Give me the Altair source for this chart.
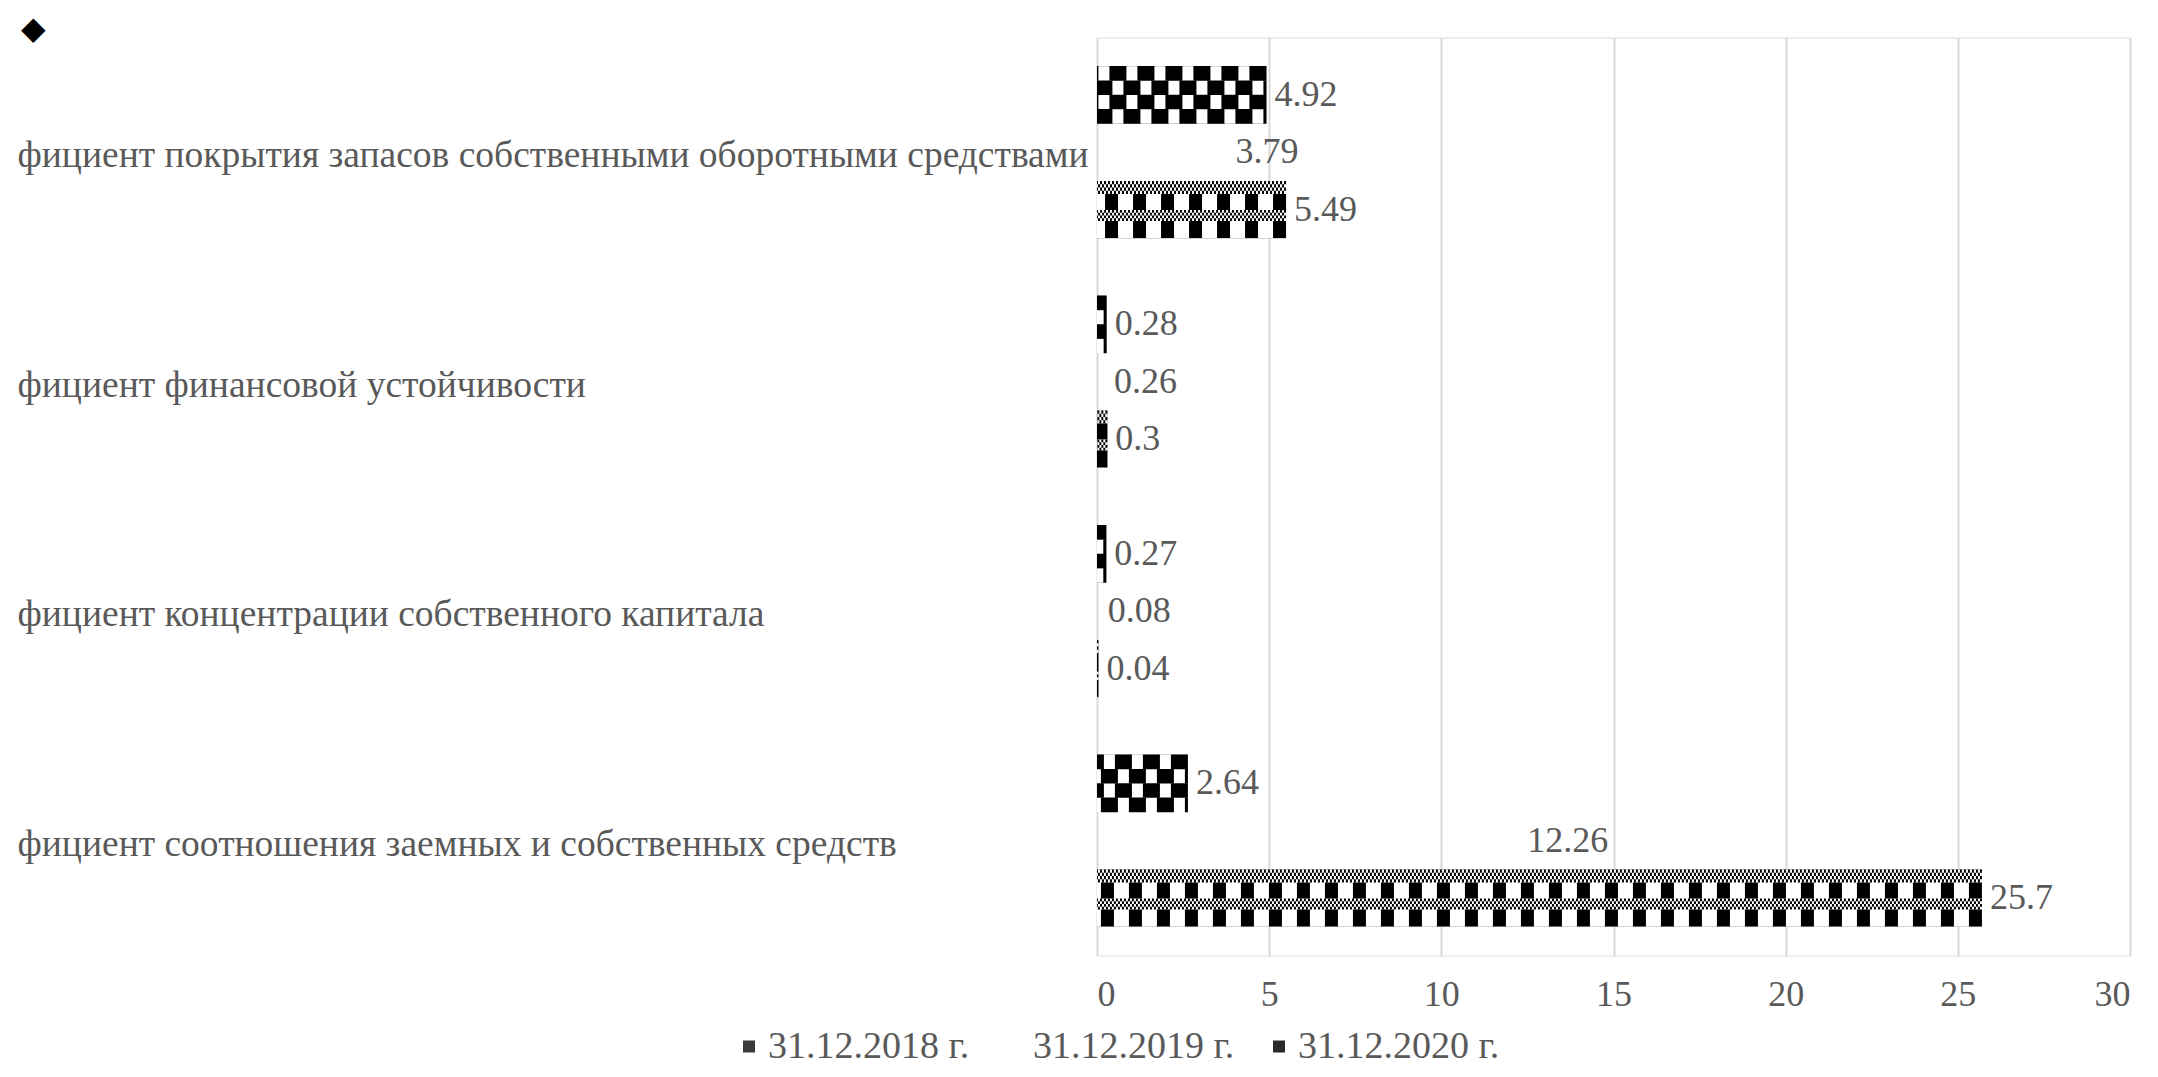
import altair as alt
import pandas as pd

categories = [
    "фициент покрытия запасов собственными оборотными средствами",
    "фициент финансовой устойчивости",
    "фициент концентрации собственного капитала",
    "фициент соотношения заемных и собственных средств",
]
series = ["31.12.2018 г.", "31.12.2019 г.", "31.12.2020 г."]
v2018 = [4.92, 0.28, 0.27, 2.64]
v2019 = [3.79, 0.26, 0.08, 12.26]
v2020 = [5.49, 0.3, 0.04, 25.7]
x_ticks = [0, 5, 10, 15, 20, 25, 30]

values = {series[0]: v2018, series[1]: v2019, series[2]: v2020}

# one band per bar, plus a spacer band between category groups;
# the middle (2019) band of each group carries the category name
rows = []
slot_domain = []
for i, cat in enumerate(categories):
    keys = [f"{i}a", cat, f"{i}c"]
    slot_domain += keys
    if i < len(categories) - 1:
        slot_domain.append(f"{i}s")
    for s, k in zip(series, keys):
        rows.append({"category": cat, "series": s, "value": values[s][i],
                     "slot": k, "zero": 0})
df = pd.DataFrame(rows)

FONT = "Liberation Serif"
GREY = "#595959"
PLOT_W, PLOT_H = 1033, 918
STEP = PLOT_H / (len(slot_domain) + 1)

y_enc = alt.Y(
    "slot:N",
    sort=slot_domain,
    scale=alt.Scale(domain=slot_domain, paddingInner=0, paddingOuter=0.5),
    axis=alt.Axis(
        title=None, ticks=False, domain=False, labelAlign="left",
        labelPadding=1080, labelLimit=3000, labelFont=FONT,
        labelFontSize=37.5, labelColor=GREY, labelBaseline="middle",
        labelOffset=4,
        labelExpr="length(datum.value) > 3 ? datum.value : ''",
    ),
)
x_enc = alt.X(
    "value:Q",
    scale=alt.Scale(domain=[0, 30], nice=False),
    axis=alt.Axis(
        title=None, values=x_ticks, grid=True, gridColor="#d9d9d9",
        gridWidth=2, domain=False, ticks=False, labelFont=FONT,
        labelFontSize=36, labelColor=GREY, labelPadding=22,
    ),
)

base = alt.Chart(df)

bars = base.mark_bar(strokeWidth=0).encode(
    x=x_enc,
    y=y_enc,
    fill=alt.Fill(
        "series:N",
        scale=alt.Scale(domain=series,
                        range=["#3a3a3a", "transparent", "#2a2a2a"]),
        legend=alt.Legend(
            title=None, orient="none", direction="horizontal",
            legendX=-367, legendY=990, offset=0, padding=0,
            symbolType="square", symbolSize=144, symbolStrokeWidth=0,
            labelFont=FONT, labelFontSize=38, labelColor=GREY,
            labelOffset=0, labelLimit=600, columnPadding=25,
        ),
    ),
)


def rule(s, color, width, offset, dash=None, dash_offset=0):
    kw = dict(color=color, strokeWidth=width, yOffset=offset, strokeCap="butt")
    if dash:
        kw["strokeDash"] = dash
        kw["strokeDashOffset"] = dash_offset
    return base.transform_filter(alt.datum.series == s).mark_rule(**kw).encode(
        x=x_enc, x2=alt.X2("zero:Q"), y=y_enc
    )


layers = [bars]
# 2018: dark chequered pattern
layers.append(rule(series[0], "#ffffff", STEP, 0))
q = STEP / 4
for j in range(4):
    layers.append(rule(series[0], "#000000", q + 0.3, -1.5 * q + j * q,
                       dash=[17, 11], dash_offset=14 * (j % 2)))
# 2020: bands of fine dots alternating with rows of black blocks
layers.append(rule(series[2], "#ffffff", STEP, 0))
top = -STEP / 2
fine_bands = [(top, 13), (top + 29, 11), (top + 57, 0.4)]
for start, h in fine_bands:
    sub = h / 4
    for j in range(4):
        if sub <= 0.2:
            continue
        layers.append(rule(series[2], "#000000", sub, start + sub * (j + 0.5),
                           dash=[2, 2], dash_offset=2 * (j % 2)))
for start, h in [(top + 13, 16), (top + 40, 17)]:
    layers.append(rule(series[2], "#000000", h, start + h / 2, dash=[13, 15]))

labels = base.mark_text(
    align="left", baseline="middle", dx=8, font=FONT, fontSize=36, color=GREY
).encode(x=x_enc, y=y_enc, text=alt.Text("value:Q"))
layers.append(labels)

chart = (
    alt.layer(*layers)
    .properties(
        width=PLOT_W,
        height=PLOT_H,
        autosize=alt.AutoSizeParams(type="none"),
        padding={"left": 1089, "top": 29.5, "right": 20, "bottom": 113.5},
        title=alt.TitleParams(
            text="◆", anchor="start", frame="bounds", fontSize=32,
            font="DejaVu Sans", color="#000000", offset=0, dx=4, dy=8,
        ),
    )
    .configure_view(stroke=None)
    .configure(background="#ffffff")
)

chart.save("out.html", embed_options={"renderer": "svg", "actions": False})
